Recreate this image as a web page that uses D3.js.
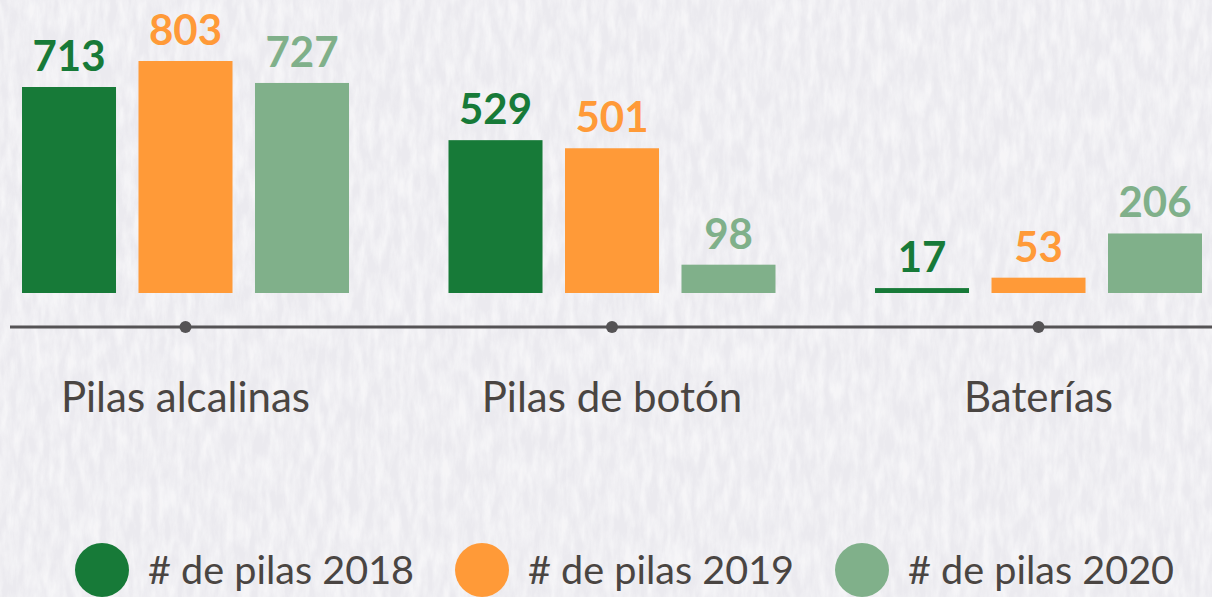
<!DOCTYPE html>
<html>
<head>
<meta charset="utf-8">
<script src="https://cdn.jsdelivr.net/npm/d3@7/dist/d3.min.js"></script>
<style>
  html, body { margin: 0; padding: 0; background: #eeedf2; }
  svg { display: block; }
</style>
</head>
<body>
<svg id="chart" width="1212" height="597"></svg>
<script>
// Battery counts collected per type and year
const categories = ["Pilas alcalinas", "Pilas de botón", "Baterías"];
const seriesNames = ["# de pilas 2018", "# de pilas 2019", "# de pilas 2020"];
const values2018 = [713, 529, 17];
const values2019 = [803, 501, 53];
const values2020 = [727, 98, 206];
const seriesColors = ["#177a38", "#ff9a38", "#80b08a"];

const W = 1212, H = 597;
const baseline = 293, axisY = 327;

const seriesValues = [values2018, values2019, values2020];
const rows = categories.map((c, i) => ({
  category: c,
  bars: seriesNames.map((s, j) => ({ series: s, value: seriesValues[j][i], color: seriesColors[j] }))
}));

const svg = d3.select("#chart");

// paper-like background texture
const defs = svg.append("defs");
const f = defs.append("filter").attr("id", "paper").attr("x", 0).attr("y", 0).attr("width", "100%").attr("height", "100%");
f.append("feTurbulence").attr("type", "fractalNoise").attr("baseFrequency", "0.12 0.035").attr("numOctaves", 4).attr("seed", 7).attr("result", "noise");
f.append("feColorMatrix").attr("in", "noise").attr("type", "matrix")
  .attr("values", "0 0 0 0 1  0 0 0 0 1  0 0 0 0 1  0 0 0 -2 1.4").attr("result", "spots");
f.append("feComposite").attr("in", "spots").attr("in2", "SourceGraphic").attr("operator", "in");

svg.append("rect").attr("width", W).attr("height", H).attr("fill", "#ebeaef");
svg.append("rect").attr("width", W).attr("height", H).attr("fill", "#ebeaef").attr("filter", "url(#paper)").attr("opacity", 0.55);

const x0 = d3.scaleBand().domain(categories).range([22, 1202]).paddingInner(0.2333).paddingOuter(0);
const x1 = d3.scaleBand().domain(seriesNames).range([0, x0.bandwidth()]).paddingInner(0.193).paddingOuter(0);
const y = d3.scaleLinear().domain([0, d3.max(seriesValues.flat())]).range([baseline, 61]);

const groups = svg.append("g").selectAll("g").data(rows).join("g")
  .attr("transform", d => `translate(${x0(d.category)},0)`);

groups.selectAll("rect").data(d => d.bars).join("rect")
  .attr("x", d => x1(d.series))
  .attr("y", d => y(d.value))
  .attr("width", x1.bandwidth())
  .attr("height", d => baseline - y(d.value))
  .attr("fill", d => d.color);

groups.selectAll("text").data(d => d.bars).join("text")
  .attr("x", d => x1(d.series) + x1.bandwidth() / 2)
  .attr("y", d => y(d.value) - 16)
  .attr("text-anchor", "middle")
  .attr("fill", d => d.color)
  .style("font-family", "Lato, 'Noto Sans', sans-serif")
  .style("font-weight", 700)
  .style("font-size", "42px")
  .text(d => d.value);

// category axis line with dots
const axis = svg.append("g");
axis.append("line").attr("x1", 10).attr("x2", W).attr("y1", axisY).attr("y2", axisY)
  .attr("stroke", "#555355").attr("stroke-width", 3);
axis.selectAll("circle").data(categories).join("circle")
  .attr("cx", d => x0(d) + x0.bandwidth() / 2).attr("cy", axisY).attr("r", 6)
  .attr("fill", "#555355");
axis.selectAll("text").data(categories).join("text")
  .attr("x", d => x0(d) + x0.bandwidth() / 2)
  .attr("y", 412)
  .attr("text-anchor", "middle")
  .attr("fill", "#4a4542")
  .style("font-family", "Lato, 'Noto Sans', sans-serif")
  .style("font-size", "42px")
  .text(d => d);

// legend
const legendX = d3.scalePoint().domain(seriesNames).range([102, 862]);
const legend = svg.append("g").selectAll("g").data(seriesNames).join("g")
  .attr("transform", d => `translate(${legendX(d)},570)`);
legend.append("circle").attr("r", 27).attr("fill", (d, i) => seriesColors[i]);
legend.append("text").attr("x", 46).attr("y", 14)
  .attr("fill", "#4a4542")
  .style("font-family", "Lato, 'Noto Sans', sans-serif")
  .style("font-size", "39.6px")
  .text(d => d);
</script>
</body>
</html>
